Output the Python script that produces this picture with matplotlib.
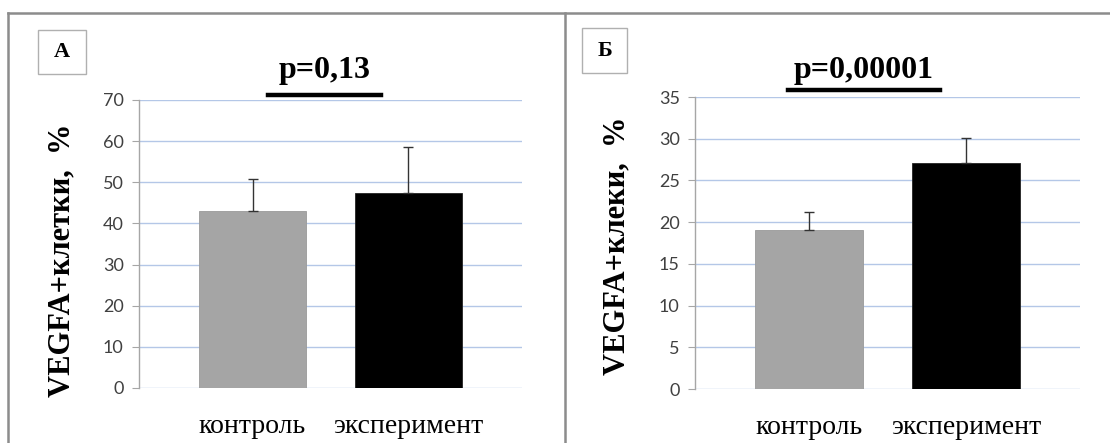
import numpy as np
import matplotlib
matplotlib.use("Agg")
import matplotlib.pyplot as plt
from matplotlib.lines import Line2D
from matplotlib.patches import Rectangle

# Data
groups = ["контроль", "эксперимент"]
bar_colors = ["#a5a5a5", "#000000"]

vals_a = [43.1, 47.4]
err_a = [7.7, 11.2]
ticks_a = np.arange(0, 71, 10)

vals_b = [19.1, 27.1]
err_b = [2.1, 3.0]
ticks_b = np.arange(0, 36, 5)

panels = [
    dict(vals=vals_a, err=err_a, ticks=ticks_a, ylim=70, letter="А",
         ptext="p=0,13", ylabel="VEGFA+клетки,  %",
         rect=[139/1110, 1-388/443, (522-139)/1110, 288/443],
         ylab_x=62, ylab_y=260, p_x=325, line=(268, 381, 95), box=(38, 30, 48, 44)),
    dict(vals=vals_b, err=err_b, ticks=ticks_b, ylim=35, letter="Б",
         ptext="p=0,00001", ylabel="VEGFA+клеки,  %",
         rect=[695/1110, 1-389/443, (1080-695)/1110, 292/443],
         ylab_x=617, ylab_y=246, p_x=864, line=(788, 940, 90), box=(582, 28, 45, 45)),
]

W, H = 1110, 443
fig = plt.figure(figsize=(W/100, H/100), dpi=100)
serif = ["Liberation Serif", "DejaVu Serif"]

def fx(px):
    return px / W

def fy(py):
    return 1 - py / H

for p in panels:
    ax = fig.add_axes(p["rect"])
    x = np.arange(len(groups))
    ax.bar(x, p["vals"], width=0.685, color=bar_colors, edgecolor=["#9a9a9a", "#222222"],
           linewidth=0.6, zorder=3)
    ax.errorbar(x, p["vals"], yerr=[np.zeros(len(groups)), p["err"]], fmt="none",
                ecolor="#333333", elinewidth=1.0, capsize=3.6, capthick=1.0, zorder=4)
    ax.set_xlim(-0.728, 1.728)
    ax.set_ylim(0, p["ylim"])
    ax.set_yticks(p["ticks"])
    ax.yaxis.grid(True, color="#b4c7e7", linewidth=1.0, zorder=0)
    ax.set_axisbelow(True)
    for s in ["top", "right", "bottom"]:
        ax.spines[s].set_visible(False)
    ax.spines["left"].set_color("#a6a6a6")
    ax.spines["left"].set_linewidth(1.0)
    ax.tick_params(axis="y", length=5, color="#a6a6a6", labelsize=13,
                   labelcolor="#404040", pad=6)
    for lab in ax.get_yticklabels():
        lab.set_family("Lato")
    ax.set_xticks(x)
    ax.set_xticklabels(groups, fontsize=20, family=serif)
    ax.tick_params(axis="x", length=0, pad=19)

    fig.text(fx(p["ylab_x"]), fy(p["ylab_y"]), p["ylabel"], rotation=90,
             ha="center", va="center", fontsize=22, fontweight="bold", family=serif)
    fig.text(fx(p["p_x"]), fy(78), p["ptext"], ha="center", va="baseline",
             fontsize=23, fontweight="bold", family=serif)
    x0, x1, yl = p["line"]
    fig.add_artist(Line2D([fx(x0), fx(x1)], [fy(yl), fy(yl)], color="black", linewidth=3.2))
    bx, by, bw, bh = p["box"]
    fig.add_artist(Rectangle((fx(bx), fy(by + bh)), bw / W, bh / H, fill=False,
                             edgecolor="#b0b0b0", linewidth=1.0))
    fig.text(fx(bx + bw/2), fy(by + bh/2), p["letter"], ha="center", va="center",
             fontsize=16, fontweight="bold", family=serif)

# outer frame
frame = "#8c8c8c"
fig.add_artist(Line2D([fx(8), 1], [fy(13), fy(13)], color=frame, linewidth=1.8))
fig.add_artist(Line2D([fx(8), fx(8)], [0, fy(13)], color=frame, linewidth=1.8))
fig.add_artist(Line2D([fx(565), fx(565)], [0, fy(13)], color=frame, linewidth=1.8))

fig.savefig("out.png", dpi=100)
